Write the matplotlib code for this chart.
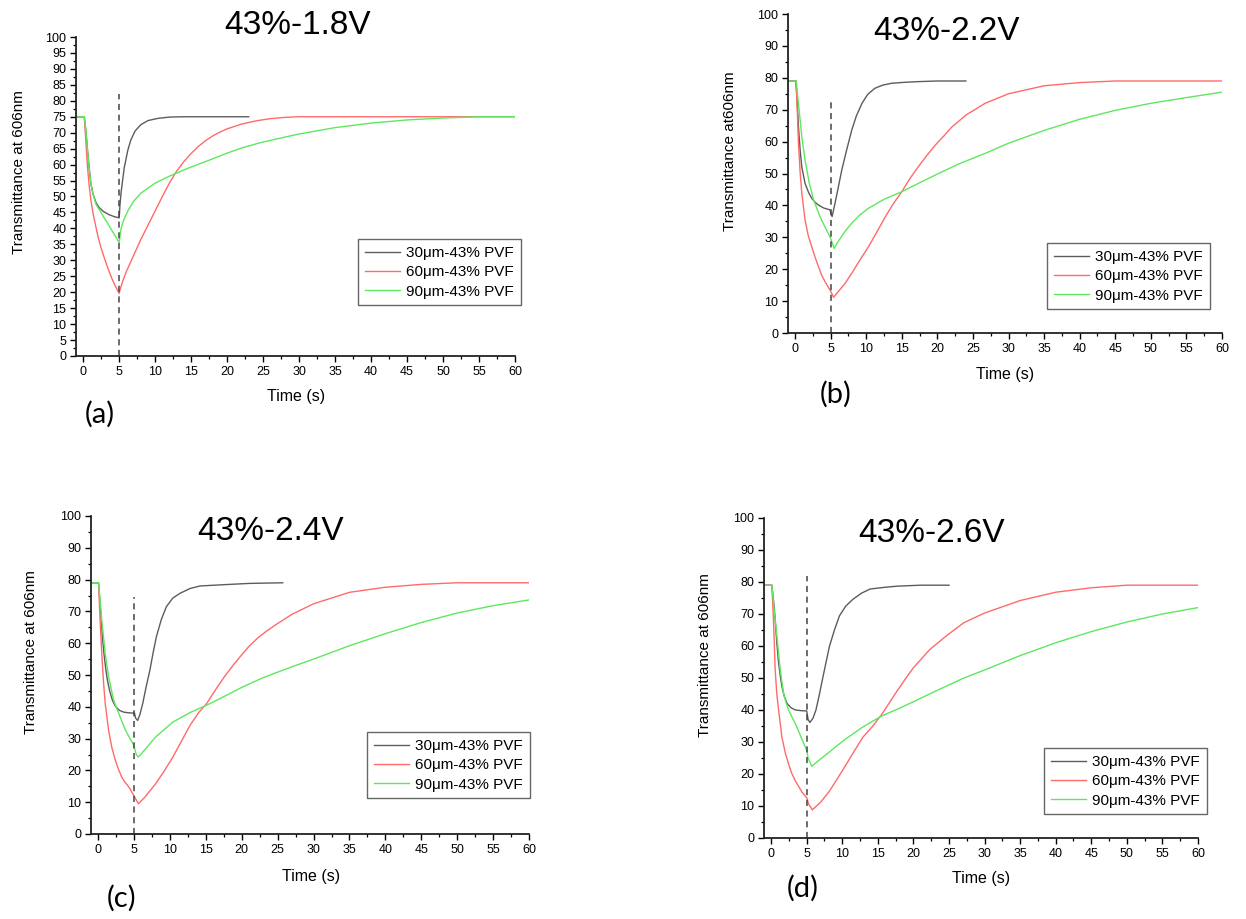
import matplotlib
matplotlib.use("Agg")
import matplotlib.pyplot as plt
from matplotlib.ticker import MultipleLocator

plt.rcParams['font.family'] = ['Liberation Sans', 'DejaVu Sans']

W, H = 1246, 919

LEGEND_LABELS = ['30\u03bcm-43% PVF', '60\u03bcm-43% PVF', '90\u03bcm-43% PVF']
COLORS = ['#5c5c5c', '#ff6a6a', '#5ee85e']

# ---- (a) 43%-1.8V ----
a_t30 = [-1, 0.15, 0.4, 0.6, 0.85, 1.07, 1.4, 1.8, 2.2, 2.8, 3.6, 4.3, 5.0,
         5.1, 5.25, 5.7, 6.2, 6.6, 7.2, 8.0, 9.0, 10.4, 12, 14, 23]
a_v30 = [75, 75, 70, 64.5, 58.5, 54, 50.5, 48, 46.6, 45.3, 44.3, 43.7, 43.3,
         47, 51, 59, 64.5, 67.6, 70.5, 72.5, 73.8, 74.5, 74.9, 75, 75]
a_t60 = [-1, 0.15, 0.35, 0.6, 0.85, 1.08, 1.4, 1.77, 2.1, 2.47, 2.9, 3.4, 4.0, 4.5, 5.0,
         5.15, 5.5, 6, 7, 8, 9, 10, 11, 12, 13, 14, 15, 16, 17, 18, 19, 20, 22, 24, 26, 28, 30, 60]
a_v60 = [75, 75, 68, 59.2, 53, 48.7, 44.3, 40.4, 37, 34, 31, 27.7, 24.2, 21.8, 19.6,
         21, 23.5, 26.5, 31.5, 36.5, 41, 45.5, 50, 54.3, 58, 61, 63.5, 65.7, 67.5, 69, 70.2,
         71.2, 72.7, 73.7, 74.4, 74.8, 75, 75]
a_t90 = [-1, 0.15, 0.4, 0.6, 0.85, 1.07, 1.4, 1.77, 2.3, 3.0, 3.5, 4.0, 4.5, 5.0,
         5.25, 5.6, 6.2, 7, 8, 10, 12, 14.5, 17.4, 20, 22, 24.5, 27, 30, 35, 40, 45, 50, 55, 60]
a_v90 = [75, 75, 70, 64.5, 58.5, 54, 50.5, 47.6, 45.6, 43, 41.2, 39.3, 37.4, 35.6,
         39.8, 42.5, 45.5, 48.5, 51, 54.2, 56.4, 58.8, 61.3, 63.6, 65.2, 66.8, 68.1, 69.6, 71.6, 73, 74, 74.6, 75, 75]

# ---- (b) 43%-2.2V ----
b_t30 = [-1, 0.1, 0.3, 0.47, 0.7, 0.94, 1.4, 1.9, 2.34, 2.8, 3.28, 4.0, 4.9,
         5.2, 5.6, 6.1, 6.56, 7.2, 7.96, 8.6, 9.4, 10.2, 11.2, 12.3, 13.6, 15.5, 17.3, 20, 24]
b_v30 = [79, 79, 72, 64.7, 57.5, 52, 46.9, 44, 42.2, 41, 40.1, 39.2, 38.6,
         36.5, 40.6, 46, 51.1, 57, 63.6, 68, 72, 74.8, 76.7, 77.7, 78.3, 78.6, 78.8, 79, 79]
b_t60 = [-1, 0.15, 0.3, 0.47, 0.7, 0.94, 1.4, 1.85, 2.34, 2.8, 3.28, 3.7, 4.2, 4.9,
         5.4, 6.0, 7.0, 7.96, 9.0, 10.3, 11.5, 12.7, 13.8, 15, 16.1, 17.3, 18.5, 19.7,
         21, 22, 24, 26.7, 30, 35, 40, 45, 60]
b_v60 = [79, 79, 70, 59.5, 50.5, 43.8, 35.4, 30.5, 27, 23.8, 20.8, 18.3, 16.1, 13.5,
         11.2, 12.8, 15.5, 18.7, 22.5, 27, 31.7, 36.5, 40.5, 44.3, 48.3, 52.1, 55.6, 58.9,
         62, 64.5, 68.3, 72, 75, 77.5, 78.5, 79, 79]
b_t90 = [-1, 0.15, 0.47, 0.94, 1.4, 2.0, 2.6, 3.5, 4.2, 4.9,
         5.5, 6.0, 7.0, 7.96, 9, 10.3, 12.5, 15, 17.5, 19.7, 23, 26.7, 30, 35, 40, 45, 50, 55, 60]
b_v90 = [79, 79, 72, 61.5, 54.2, 46.9, 41.7, 36.5, 33.2, 30.2,
         26.5, 28.5, 31.8, 34.4, 36.8, 39.1, 41.9, 44.3, 47.1, 49.5, 53, 56.3, 59.5, 63.5, 67, 69.8, 72, 73.8, 75.5]

# ---- (c) 43%-2.4V ----
c_t30 = [-1, 0.05, 0.33, 0.55, 0.8, 1.05, 1.28, 1.6, 1.99, 2.4, 2.93, 3.6, 4.3, 5.06,
         5.2, 5.5, 5.8, 6.2, 6.7, 7.2, 7.65, 8.1, 8.8, 9.5, 10.4, 11.4, 12.8, 14.2, 17.5, 21, 25.7]
c_v30 = [79, 79, 70.4, 63, 56.8, 52, 48.4, 45, 42, 40.2, 38.9, 38.3, 38.1, 38,
         36.5, 35.7, 37.5, 41, 46.5, 51.5, 57, 62, 67.5, 71.5, 74.2, 75.7, 77.2, 78, 78.4, 78.8, 79]
c_t60 = [-1, 0.05, 0.25, 0.5, 0.75, 0.98, 1.45, 1.9, 2.4, 2.85, 3.3, 3.8, 4.3, 4.96,
         5.6, 6.5, 8.0, 9.2, 10.4, 11.6, 12.8, 14, 15.1, 16.3, 17.5, 18.7, 19.9, 21, 22.2,
         23.5, 25, 27, 30, 35, 40, 45, 50, 60]
c_v60 = [79, 79, 68, 56.8, 47.5, 41, 32.6, 27.2, 23.1, 20.2, 17.8, 16.1, 14.7, 12.1,
         9.5, 11.6, 15.8, 19.8, 24.2, 29.2, 34.2, 38.2, 41, 45.2, 49.2, 52.8, 56.1, 59, 61.6,
         63.9, 66.2, 69.1, 72.4, 76, 77.6, 78.5, 79, 79]
c_t90 = [-1, 0.05, 0.5, 0.98, 1.45, 2.16, 2.87, 3.8, 4.96,
         5.3, 5.6, 6.5, 8.0, 10.4, 12.8, 15.1, 17.5, 19.9, 23, 27, 30, 35, 40, 45, 50, 55, 60]
c_v90 = [79, 79, 67.3, 56.8, 49.4, 42, 37.9, 32.6, 27.9,
         25, 24.2, 26.5, 30.5, 35.2, 38.2, 40.5, 43.2, 46, 49.2, 52.6, 55, 59.2, 63, 66.5, 69.5, 71.8, 73.6]

# ---- (d) 43%-2.6V ----
d_t30 = [-1, 0.1, 0.35, 0.57, 0.8, 1.05, 1.3, 1.52, 1.85, 2.23, 2.8, 3.42, 4.2, 5.0,
         5.2, 5.45, 5.9, 6.3, 6.75, 7.2, 7.7, 8.2, 8.9, 9.6, 10.5, 11.5, 12.7, 13.9, 15.8, 17.7, 21, 25]
d_v30 = [79, 79, 74, 68.4, 61, 54.7, 50.5, 47.3, 44.3, 42.1, 40.7, 40, 39.8, 39.7,
         37, 36.1, 37.5, 40, 44.5, 49.4, 54.7, 59.9, 65, 69.4, 72.5, 74.6, 76.5, 77.8, 78.3, 78.7, 79, 79]
d_t60 = [-1, 0.1, 0.33, 0.57, 0.8, 1.05, 1.52, 2.0, 2.46, 2.9, 3.4, 3.9, 4.35, 5.0,
         5.3, 5.8, 7.0, 8.15, 9.3, 10.5, 11.7, 12.9, 14.3, 15.6, 16.6, 17.6, 18.8, 20,
         22.3, 24.7, 27.1, 30, 35, 40, 45, 50, 60]
d_v60 = [79, 79, 68.4, 52.6, 45, 40, 31.5, 26.5, 23.1, 20.2, 17.9, 16, 14.3, 12.6,
         10.5, 8.8, 11.3, 14.5, 18.5, 22.8, 27.2, 31.5, 35, 38.8, 42.2, 45.6, 49.5, 53.2,
         58.9, 63.3, 67.3, 70.3, 74.2, 76.8, 78.2, 79, 79]
d_t90 = [-1, 0.1, 0.4, 0.81, 1.28, 1.75, 2.1, 2.46, 2.9, 3.4, 4.2, 5.0,
         5.2, 5.7, 6.9, 8.15, 9.3, 10.5, 12.9, 15.6, 18, 20, 23.5, 27.1, 30, 35, 40, 45, 50, 55, 60]
d_v90 = [79, 79, 72, 63.1, 52.6, 45.2, 42.3, 40, 37.9, 35.8, 31.6, 27.4,
         25, 22.4, 24.6, 26.8, 28.9, 31, 34.7, 38.2, 40.5, 42.6, 46.3, 50, 52.5, 57, 61, 64.5, 67.5, 70, 72]

TITLES = ['43%-1.8V', '43%-2.2V', '43%-2.4V', '43%-2.6V']
TAGS = ['(a)', '(b)', '(c)', '(d)']
YLABELS = ['Transmittance at 606nm', 'Transmittance at606nm',
           'Transmittance at 606nm', 'Transmittance at 606nm']
DASH_TOP = [82, 73.3, 74.5, 82]


def px(x, y):
    return x / W, 1 - y / H


def add_axes(left, right, top, bottom):
    return fig.add_axes([left / W, 1 - bottom / H, (right - left) / W, (bottom - top) / H])


def draw_panel(ax, series, dash_top, ymajor):
    for (t, v), c in zip(series, COLORS):
        ax.plot(t, v, color=c, lw=1.0)
    ax.plot([5, 5], [0, dash_top], color='#444444', lw=1.1, ls=(0, (4, 3)))
    ax.set_xlim(-1, 60)
    ax.set_ylim(0, 100)
    ax.xaxis.set_major_locator(MultipleLocator(5))
    ax.xaxis.set_minor_locator(MultipleLocator(2.5))
    ax.yaxis.set_major_locator(MultipleLocator(ymajor))
    ax.yaxis.set_minor_locator(MultipleLocator(ymajor / 2))
    for s in ['top', 'right']:
        ax.spines[s].set_visible(False)
    for s in ['left', 'bottom']:
        ax.spines[s].set_linewidth(1.3)
        ax.spines[s].set_color('#222222')
    ax.tick_params(which='major', direction='out', length=4, width=1.0, labelsize=9, pad=3)
    ax.tick_params(which='minor', direction='out', length=2.5, width=0.9)


fig = plt.figure(figsize=(W / 100, H / 100), dpi=100)

# spine extents (left, right, top, bottom) in pixels
boxes = [(76, 515, 37, 356), (788, 1222, 14, 333), (91, 529, 516, 834), (764, 1198, 518, 838)]
panels = [
    [(a_t30, a_v30), (a_t60, a_v60), (a_t90, a_v90)],
    [(b_t30, b_v30), (b_t60, b_v60), (b_t90, b_v90)],
    [(c_t30, c_v30), (c_t60, c_v60), (c_t90, c_v90)],
    [(d_t30, d_v30), (d_t60, d_v60), (d_t90, d_v90)],
]
ymajors = [5, 10, 10, 10]
title_pos = [(298, 25), (946, 32), (271, 532), (932, 534)]
tag_pos = [(100, 414), (836, 394), (122, 898), (803, 888)]
ylab_pos = [(19, 172), (730, 151), (31, 652), (705, 655)]
xlab_pos = [(296, 396), (1005, 375), (311, 876), (981, 879)]
leg_pos = [(358, 239), (1047, 243), (367, 732), (1044, 748)]

for i in range(4):
    ax = add_axes(*boxes[i])
    draw_panel(ax, panels[i], DASH_TOP[i], ymajors[i])
    fig.text(*px(*title_pos[i]), TITLES[i], fontsize=24, ha='center', va='center')
    fig.text(*px(*tag_pos[i]), TAGS[i], fontsize=21, ha='center', va='center',
             family=['Lato', 'DejaVu Sans'])
    fig.text(*px(*ylab_pos[i]), YLABELS[i], fontsize=11, ha='center', va='center', rotation=90)
    fig.text(*px(*xlab_pos[i]), 'Time (s)', fontsize=11.5, ha='center', va='center')
    leg = ax.legend(LEGEND_LABELS, loc='upper left', bbox_to_anchor=px(*leg_pos[i]),
                    bbox_transform=fig.transFigure, borderaxespad=0, fontsize=11,
                    fancybox=False, framealpha=1, edgecolor='#666666',
                    handlelength=2.3, handletextpad=0.4, labelspacing=0.35,
                    borderpad=0.45)
    leg.get_frame().set_linewidth(1.0)

fig.savefig('out.png', dpi=100)
